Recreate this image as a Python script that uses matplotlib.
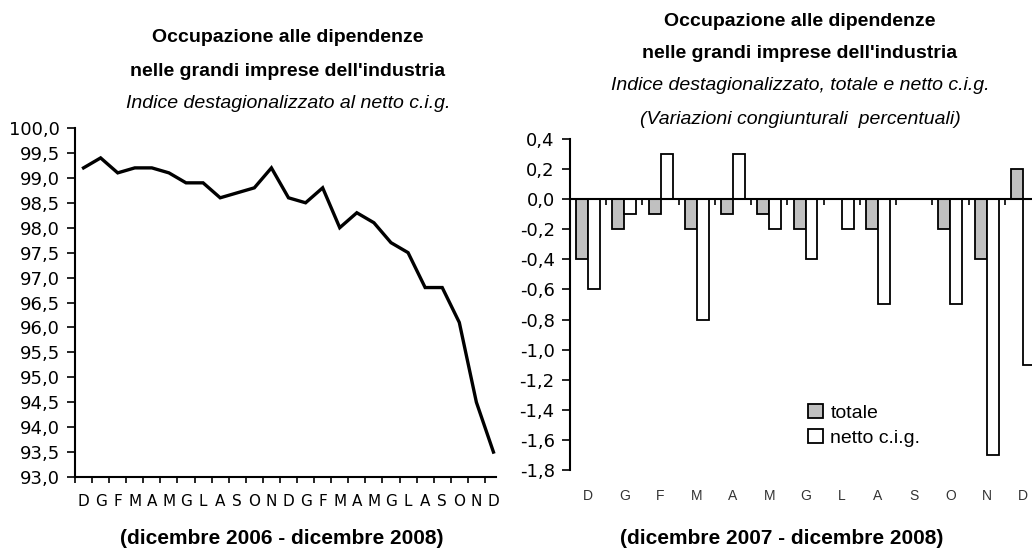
import matplotlib
matplotlib.use("Agg")
import matplotlib.pyplot as plt
import matplotlib.transforms as mtransforms
from matplotlib.ticker import FuncFormatter
from matplotlib.patches import Patch

plt.rcParams['axes.unicode_minus'] = False
ARIAL = ['Liberation Sans', 'DejaVu Sans']

# left chart: index, Dec 2006 - Dec 2008
months_left = ['D', 'G', 'F', 'M', 'A', 'M', 'G', 'L', 'A', 'S', 'O', 'N',
               'D', 'G', 'F', 'M', 'A', 'M', 'G', 'L', 'A', 'S', 'O', 'N', 'D']
index_values = [99.2, 99.4, 99.1, 99.2, 99.2, 99.1, 98.9, 98.9, 98.6, 98.7, 98.8, 99.2,
                98.6, 98.5, 98.8, 98.0, 98.3, 98.1, 97.7, 97.5, 96.8, 96.8, 96.1, 94.5, 93.5]

# right chart: monthly % changes, Dec 2007 - Dec 2008
months_right = ['D', 'G', 'F', 'M', 'A', 'M', 'G', 'L', 'A', 'S', 'O', 'N', 'D']
totale = [-0.4, -0.2, -0.1, -0.2, -0.1, -0.1, -0.2, 0.0, -0.2, 0.0, -0.2, -0.4, 0.2]
netto_cig = [-0.6, -0.1, 0.3, -0.8, 0.3, -0.2, -0.4, -0.2, -0.7, 0.0, -0.7, -1.7, -1.1]

comma = FuncFormatter(lambda v, p: f"{v:.1f}".replace('.', ','))

fig = plt.figure(figsize=(10.32, 5.5), dpi=100)

# ---- left: line chart
ax1 = fig.add_axes([75 / 1032, 1 - 477 / 550, 427 / 1032, 349 / 550])
n = len(index_values)
xs = list(range(n))
ax1.plot(xs, index_values, color='black', lw=2.4, solid_joinstyle='miter')
ax1.set_xlim(-0.5, n - 0.5)
ax1.set_ylim(93.0, 100.0)
ax1.set_yticks([93.0 + 0.5 * i for i in range(15)])
ax1.yaxis.set_major_formatter(comma)
ax1.set_xticks([i - 0.5 for i in range(n)], [''] * n)
ax1.set_xticks(xs, months_left, minor=True)
ax1.tick_params(axis='x', which='major', direction='out', length=4, width=1.2)
ax1.tick_params(axis='x', which='minor', length=0, pad=12, labelsize=11)
ax1.tick_params(axis='y', direction='out', length=6, width=1.2, labelsize=13, pad=5)
for s in ['top', 'right']:
    ax1.spines[s].set_visible(False)
for s in ['left', 'bottom']:
    ax1.spines[s].set_linewidth(1.5)
ax1.spines['bottom'].set_bounds(-0.5, n - 0.85)

fig.text(288 / 1032, 1 - 38 / 550, 'Occupazione alle dipendenze', ha='center', va='center',
         fontsize=14, fontweight='bold', family=ARIAL)
fig.text(288 / 1032, 1 - 71 / 550, "nelle grandi imprese dell'industria", ha='center', va='center',
         fontsize=14, fontweight='bold', family=ARIAL)
fig.text(288 / 1032, 1 - 104 / 550, 'Indice destagionalizzato al netto c.i.g.', ha='center',
         va='center', fontsize=14, style='italic', family=ARIAL)
fig.text(282 / 1032, 1 - 538 / 550, '(dicembre 2006 - dicembre 2008)', ha='center', va='center',
         fontsize=15, fontweight='bold', family=ARIAL)

# ---- right: bar chart
ax2 = fig.add_axes([570 / 1032, 1 - 470 / 550, 471 / 1032, 331 / 550])
m = len(months_right)
xr = list(range(m))
bw = 0.33
ax2.bar([x - bw / 2 for x in xr], totale, bw, color='#c0c0c0', edgecolor='black', lw=1.3,
        label='totale')
ax2.bar([x + bw / 2 for x in xr], netto_cig, bw, color='white', edgecolor='black', lw=1.3,
        label='netto c.i.g.')
ax2.set_xlim(-0.5, m - 0.5)
ax2.set_ylim(-1.8, 0.4)
ax2.set_yticks([-1.8 + 0.2 * i for i in range(12)])
ax2.yaxis.set_major_formatter(comma)
ax2.spines['bottom'].set_position(('data', 0))
ax2.set_xticks([i + 0.5 for i in range(m - 1)], [''] * (m - 1))
ax2.tick_params(axis='x', direction='out', length=4, width=1.2)
ax2.tick_params(axis='y', direction='out', length=6, width=1.2, labelsize=13, pad=5)
for s in ['top', 'right']:
    ax2.spines[s].set_visible(False)
for s in ['left', 'bottom']:
    ax2.spines[s].set_linewidth(1.5)
trans = mtransforms.blended_transform_factory(ax2.transData, fig.transFigure)
for x, lab in zip(xr, months_right):
    ax2.text(x, 1 - 496 / 550, lab, transform=trans, ha='center', va='center',
             fontsize=10, color='#333333', family=ARIAL)

ax2.legend(handles=[Patch(facecolor='#c0c0c0', edgecolor='black', lw=1.3, label='totale'),
                    Patch(facecolor='white', edgecolor='black', lw=1.3, label='netto c.i.g.')],
           loc='upper left', bbox_to_anchor=(808 / 1032, 1 - 404 / 550),
           bbox_transform=fig.transFigure, frameon=False,
           handlelength=0.75, handleheight=0.75, handletextpad=0.4, labelspacing=0.35,
           borderpad=0, borderaxespad=0, prop={'family': ARIAL, 'size': 14})

fig.text(800 / 1032, 1 - 21 / 550, 'Occupazione alle dipendenze', ha='center', va='center',
         fontsize=14, fontweight='bold', family=ARIAL)
fig.text(800 / 1032, 1 - 53 / 550, "nelle grandi imprese dell'industria", ha='center', va='center',
         fontsize=14, fontweight='bold', family=ARIAL)
fig.text(800 / 1032, 1 - 86 / 550, 'Indice destagionalizzato, totale e netto c.i.g.', ha='center',
         va='center', fontsize=14, style='italic', family=ARIAL)
fig.text(800 / 1032, 1 - 119 / 550, '(Variazioni congiunturali  percentuali)', ha='center',
         va='center', fontsize=14, style='italic', family=ARIAL)
fig.text(782 / 1032, 1 - 538 / 550, '(dicembre 2007 - dicembre 2008)', ha='center', va='center',
         fontsize=15, fontweight='bold', family=ARIAL)

fig.savefig('out.png', dpi=100)
